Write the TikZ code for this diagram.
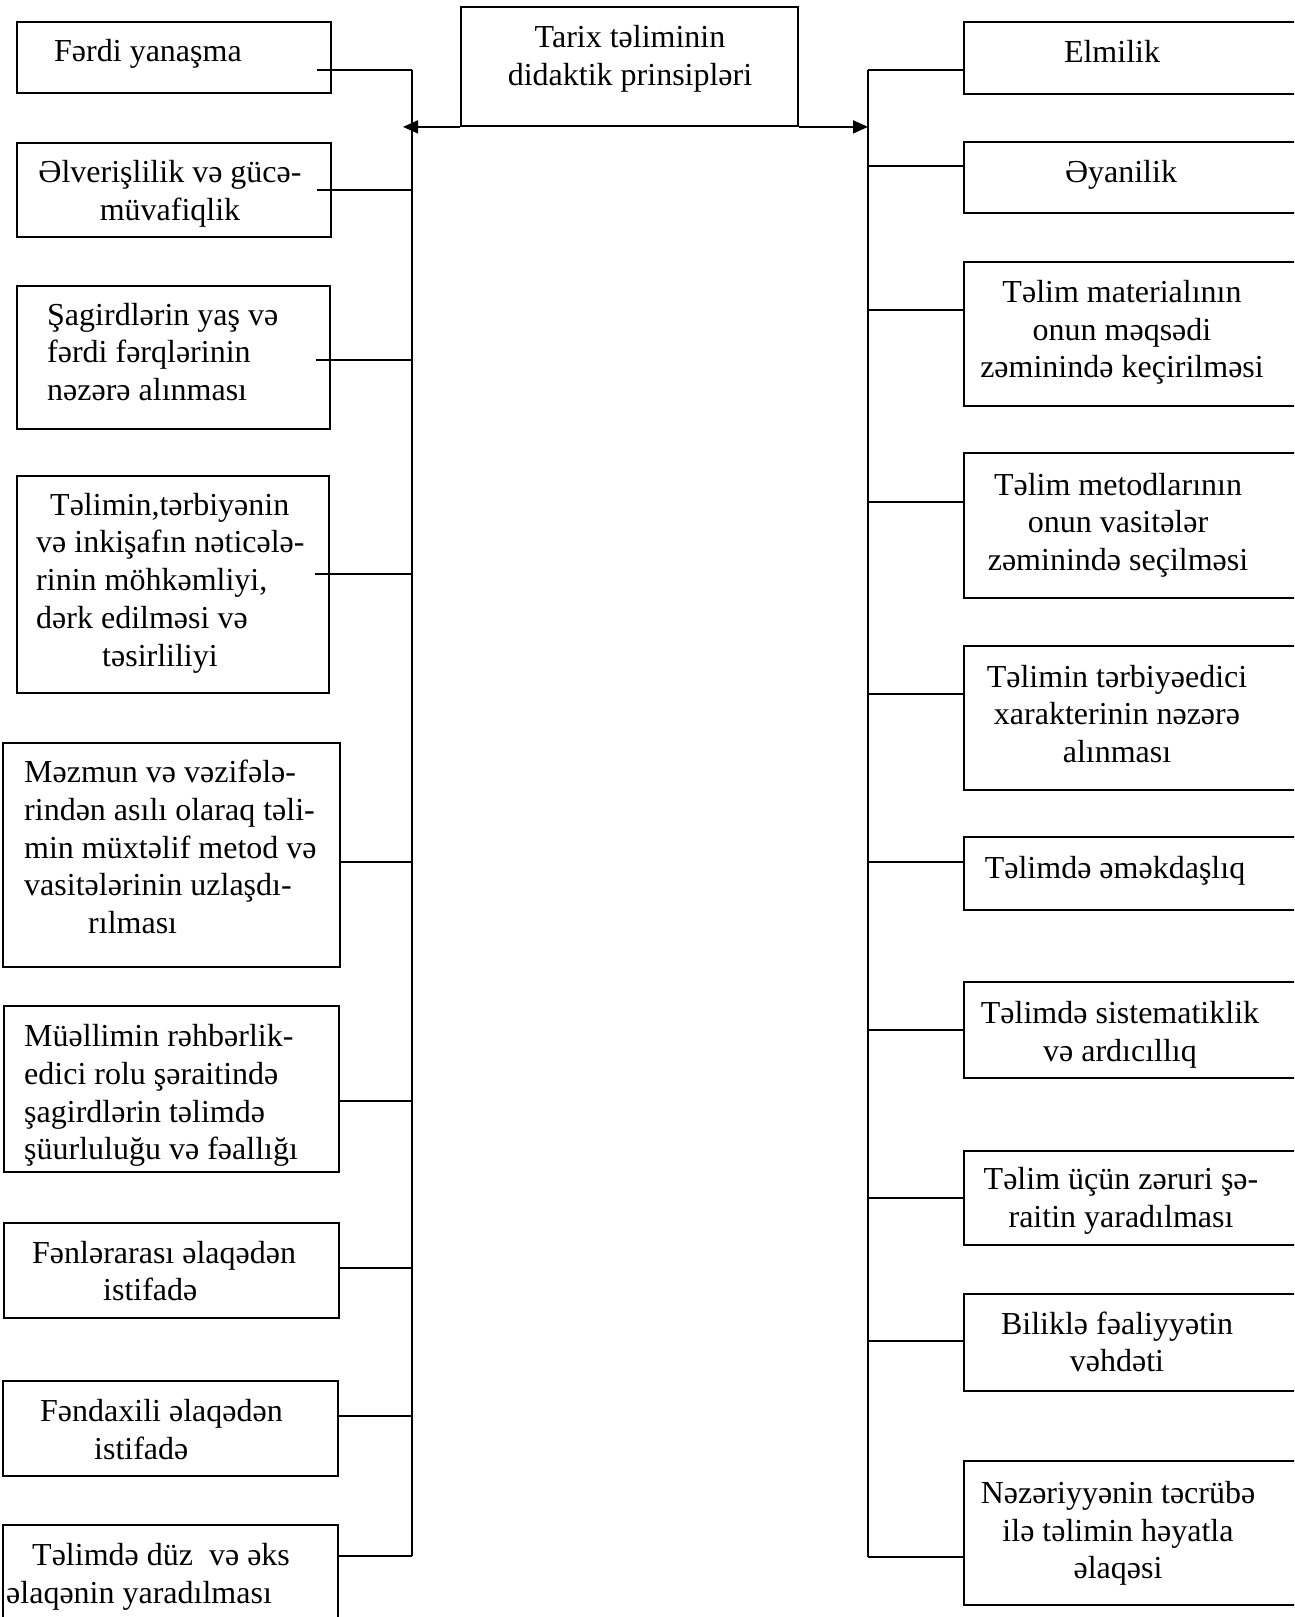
\documentclass[tikz,border=0pt]{standalone}
\usepackage{fontspec}
\setmainfont{Liberation Serif}
\usetikzlibrary{calc,arrows.meta}
\begin{document}
\begin{tikzpicture}[x=1bp,y=-1bp,
  frame/.style={draw, line width=1.8bp, inner sep=0pt},
  txt/.style={inner sep=0pt, font=\fontsize{32bp}{37.7bp}\selectfont},
  link/.style={line width=1.8bp},
  arr/.style={line width=1.8bp, -{Triangle[length=15bp,width=13bp]}}]
\path[use as bounding box] (0,0) rectangle (1294,1617);
\clip (0,0) rectangle (1294,1617);

% central box
\node[frame, minimum width=337bp, minimum height=119bp] (C) at (629.5,66.5) {};
\node[txt, align=center] (Ct) at (630,59) {Tarix təliminin\\didaktik prinsipləri};

% left column frames
\node[frame, minimum width=314bp, minimum height=71bp]  (L1) at (174,57.5) {};
\node[frame, minimum width=314bp, minimum height=94bp]  (L2) at (174,190) {};
\node[frame, minimum width=313bp, minimum height=143bp] (L3) at (173.5,357.5) {};
\node[frame, minimum width=312bp, minimum height=217bp] (L4) at (173,584.5) {};
\node[frame, minimum width=337bp, minimum height=224bp] (L5) at (171.5,855) {};
\node[frame, minimum width=335bp, minimum height=166bp] (L6) at (171.5,1089) {};
\node[frame, minimum width=335bp, minimum height=95bp]  (L7) at (171.5,1270.5) {};
\node[frame, minimum width=335bp, minimum height=95bp]  (L8) at (170.5,1428.5) {};
\node[frame, minimum width=335bp, minimum height=115bp] (L9) at (170.5,1582.5) {};

% left column texts
\node[txt, anchor=west] (L1t) at (54,54) {Fərdi yanaşma};
\node[txt, align=center] (L2t) at (170,194) {Əlverişlilik və gücə-\\müvafiqlik};
\node[txt, align=left, anchor=west] (L3t) at (47,352) {Şagirdlərin yaş və\\fərdi fərqlərinin\\nəzərə alınması};
\node[txt, align=left, anchor=west] (L4t) at (36,583) {\hspace*{14bp}Təlimin,tərbiyənin\\və inkişafın nəticələ-\\rinin möhkəmliyi,\\dərk edilməsi və\\\hspace*{66bp}təsirliliyi};
\node[txt, align=left, anchor=west] (L5t) at (24,847) {Məzmun və vəzifələ-\\rindən asılı olaraq təli-\\min müxtəlif metod və\\vasitələrinin uzlaşdı-\\\hspace*{64bp}rılması};
\node[txt, align=left, anchor=west] (L6t) at (24,1095.5) {Müəllimin rəhbərlik-\\edici rolu şəraitində\\şagirdlərin təlimdə\\şüurluluğu və fəallığı};
\node[txt, align=left, anchor=west] (L7t) at (32,1271) {Fənlərarası əlaqədən\\\hspace*{71bp}istifadə};
\node[txt, align=left, anchor=west] (L8t) at (40,1429.5) {Fəndaxili əlaqədən\\\hspace*{54bp}istifadə};
\node[txt, align=left, anchor=west] (L9t) at (6,1577) {\hspace*{26bp}Təlimdə düz\ \ və əks\\əlaqənin yaradılması};

% right column frames (running past the right edge)
\node[frame, minimum width=356bp, minimum height=72bp]  (R1)  at (1142,58) {};
\node[frame, minimum width=356bp, minimum height=71bp]  (R2)  at (1142,177.5) {};
\node[frame, minimum width=356bp, minimum height=144bp] (R3)  at (1142,334) {};
\node[frame, minimum width=356bp, minimum height=145bp] (R4)  at (1142,525.5) {};
\node[frame, minimum width=356bp, minimum height=144bp] (R5)  at (1142,718) {};
\node[frame, minimum width=356bp, minimum height=73bp]  (R6)  at (1142,873.5) {};
\node[frame, minimum width=356bp, minimum height=96bp]  (R7)  at (1142,1030) {};
\node[frame, minimum width=356bp, minimum height=94bp]  (R8)  at (1142,1198) {};
\node[frame, minimum width=356bp, minimum height=97bp]  (R9)  at (1142,1342.5) {};
\node[frame, minimum width=356bp, minimum height=144bp] (R10) at (1142,1533) {};

% right column texts
\node[txt, align=center] (R1t)  at (1112,51.5) {Elmilik};
\node[txt, align=center] (R2t)  at (1121,175) {Əyanilik};
\node[txt, align=center] (R3t)  at (1122,332.5) {Təlim materialının\\onun məqsədi\\zəminində keçirilməsi};
\node[txt, align=center] (R4t)  at (1118,525) {Təlim metodlarının\\onun vasitələr\\zəminində seçilməsi};
\node[txt, align=center] (R5t)  at (1117,714) {Təlimin tərbiyəedici\\xarakterinin nəzərə\\alınması};
\node[txt, align=center] (R6t)  at (1115,871) {Təlimdə əməkdaşlıq};
\node[txt, align=center] (R7t)  at (1120,1035) {Təlimdə sistematiklik\\və ardıcıllıq};
\node[txt, align=center] (R8t)  at (1121,1200.5) {Təlim üçün zəruri şə-\\raitin yaradılması};
\node[txt, align=center] (R9t)  at (1117,1342) {Biliklə fəaliyyətin\\vəhdəti};
\node[txt, align=center] (R10t) at (1118,1533.5) {Nəzəriyyənin təcrübə\\ilə təlimin həyatla\\əlaqəsi};

% left bus and its taps
\coordinate (lc1) at (412,70);
\coordinate (lc2) at (412,190);
\coordinate (lc3) at (412,360);
\coordinate (lc4) at (412,574);
\coordinate (lc5) at (412,862);
\coordinate (lc6) at (412,1101);
\coordinate (lc7) at (412,1268);
\coordinate (lc8) at (412,1416);
\coordinate (lc9) at (412,1556);
\draw[link] (lc1) -- (lc9);
\draw[link] ($(L1.east |- lc1)+(-15,0)$) -- (lc1);
\draw[link] ($(L2.east |- lc2)+(-15,0)$) -- (lc2);
\draw[link] ($(L3.east |- lc3)+(-15,0)$) -- (lc3);
\draw[link] ($(L4.east |- lc4)+(-15,0)$) -- (lc4);
\draw[link] (L5.east |- lc5) -- (lc5);
\draw[link] (L6.east |- lc6) -- (lc6);
\draw[link] (L7.east |- lc7) -- (lc7);
\draw[link] (L8.east |- lc8) -- (lc8);
\draw[link] (L9.east |- lc9) -- (lc9);

% right bus and its taps
\coordinate (rc1) at (868,70);
\coordinate (rc2) at (868,166);
\coordinate (rc3) at (868,310);
\coordinate (rc4) at (868,502);
\coordinate (rc5) at (868,694);
\coordinate (rc6) at (868,862);
\coordinate (rc7) at (868,1030);
\coordinate (rc8) at (868,1198);
\coordinate (rc9) at (868,1341);
\coordinate (rc10) at (868,1557);
\draw[link] (rc1) -- (rc10);
\draw[link] (rc1) -- (R1.west |- rc1);
\draw[link] (rc2) -- (R2.west |- rc2);
\draw[link] (rc3) -- (R3.west |- rc3);
\draw[link] (rc4) -- (R4.west |- rc4);
\draw[link] (rc5) -- (R5.west |- rc5);
\draw[link] (rc6) -- (R6.west |- rc6);
\draw[link] (rc7) -- (R7.west |- rc7);
\draw[link] (rc8) -- (R8.west |- rc8);
\draw[link] (rc9) -- (R9.west |- rc9);
\draw[link] (rc10) -- (R10.west |- rc10);

% arrows from the central box to both buses
\draw[arr] (C.south west) -- ($(C.south west -| lc1)+(-9,0)$);
\draw[arr] (C.south east) -- (C.south east -| rc1);
\end{tikzpicture}
\end{document}
